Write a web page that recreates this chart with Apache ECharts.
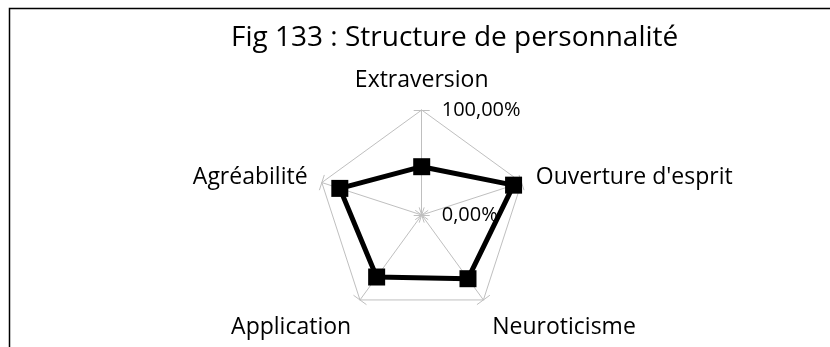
<!DOCTYPE html>
<html>
<head>
<meta charset="utf-8">
<script src="https://cdn.jsdelivr.net/npm/echarts@6/dist/echarts.min.js"></script>
<style>
  html, body { margin: 0; padding: 0; background: #fff; }
  #chart { width: 830px; height: 347px; }
</style>
</head>
<body>
<div id="chart"></div>
<script>
// indicators listed counterclockwise from the top (ECharts radar order)
var traits = ["Extraversion", "Agréabilité", "Application", "Neuroticisme", "Ouverture d'esprit"];
var scores = [46, 82, 73, 75, 92]; // percent
var scoreMax = 100;
var titleText = "Fig 133 : Structure de personnalité";

var fontFam = "'Open Sans', 'Noto Sans', sans-serif";
var grey = "#bfbfbf";
var center = [421.7, 215];
var radius = 105;

function pct(v) {
    return Number(v).toFixed(2).replace(".", ",") + "%";
}

var chart = echarts.init(document.getElementById("chart"));

var indicators = traits.map(function(t, i) {
    var ind = { name: t, min: 0, max: scoreMax };
    if (i === 0) {
        ind.axisLabel = { show: true }; // only the top axis carries the scale
    }
    return ind;
});

var option = {
    animation: false,
    backgroundColor: "#fff",
    title: {
        text: titleText,
        left: 231,
        top: 24,
        padding: 0,
        textStyle: {
            fontFamily: fontFam,
            fontSize: 28,
            fontWeight: "normal",
            color: "#000"
        }
    },
    radar: [{
        center: center,
        radius: radius,
        startAngle: 90,
        splitNumber: 1,
        shape: "polygon",
        indicator: indicators,
        nameGap: 15,
        axisName: {
            color: "#000",
            fontFamily: fontFam,
            fontSize: 23,
            lineHeight: 30,
            formatter: function(name) {
                // the two bottom labels sit a bit lower in the original
                if (name === traits[2] || name === traits[3]) {
                    return "\n" + name;
                }
                return name;
            }
        },
        axisLine: { lineStyle: { color: grey, width: 1 } },
        axisTick: { show: true, length: 8, lineStyle: { color: grey } },
        splitLine: { lineStyle: { color: grey, width: 1 } },
        splitArea: { show: false },
        axisLabel: {
            show: false,
            color: "#000",
            fontFamily: fontFam,
            fontSize: 20,
            margin: -20,
            align: "left",
            verticalAlign: "middle",
            formatter: pct
        }
    }, {
        // second copy only to draw the other half of the cross ticks
        center: center,
        radius: radius,
        startAngle: 90,
        splitNumber: 1,
        shape: "polygon",
        indicator: traits.map(function(t) { return { name: t, min: 0, max: scoreMax }; }),
        axisName: { show: false },
        axisLine: { show: false },
        axisTick: { show: true, length: -8, lineStyle: { color: grey } },
        splitLine: { show: false },
        splitArea: { show: false },
        axisLabel: { show: false }
    }],
    series: [{
        type: "radar",
        radarIndex: 0,
        symbol: "rect",
        symbolSize: 17,
        lineStyle: { color: "#000", width: 5 },
        itemStyle: { color: "#000" },
        data: [{ value: scores, name: "Structure" }]
    }],
    graphic: [{
        type: "rect",
        shape: { x: 9.5, y: 8.5, width: 900, height: 400 },
        style: { fill: null, stroke: "#000", lineWidth: 1.5 },
        silent: true
    }]
};

chart.setOption(option);
</script>
</body>
</html>
